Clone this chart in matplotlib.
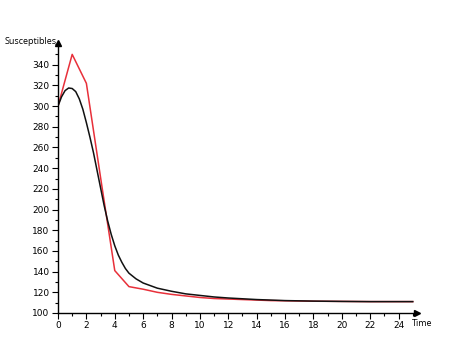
import matplotlib
matplotlib.use("Agg")
import matplotlib.pyplot as plt
from matplotlib.ticker import MultipleLocator

# Red series (discrete model), read at integer times
t_red = [0, 1, 2, 3, 4, 5, 6, 7, 8, 9, 10, 11, 12, 13, 14, 15, 16, 17, 18, 19, 20, 21, 22, 23, 24, 25]
s_red = [300, 350, 322, 231, 141, 125.5, 123, 120, 118, 116.5, 115, 114, 113.5, 113, 112.5, 112,
         111.8, 111.6, 111.4, 111.3, 111.2, 111.1, 111, 111, 111, 111]

# Black series (continuous model)
t_black = [0, 0.25, 0.5, 0.75, 1, 1.25, 1.5, 1.75, 2, 2.25, 2.5, 2.75, 3, 3.25, 3.5, 3.75, 4,
           4.25, 4.5, 4.75, 5, 5.5, 6, 7, 8, 9, 10, 11, 12, 14, 16, 18, 20, 22, 25]
s_black = [300, 309, 315, 317.5, 317, 314, 307, 297, 284, 270, 255, 238, 221, 204, 189, 176, 165,
           156, 149, 143, 138.5, 133, 129, 124, 121, 118.5, 117, 115.5, 114.5, 113, 112, 111.5,
           111.2, 111, 111]

fig = plt.figure(figsize=(4.74, 3.57), dpi=100)
ax = fig.add_axes([58/474, 1 - 313/357, (417 - 58)/474, (313 - 43)/357])

ax.plot(t_red, s_red, color="#e8303a", lw=1.1)
ax.plot(t_black, s_black, color="#111111", lw=1.1)

ax.set_xlim(0, 25.3)
ax.set_ylim(100, 361)

for s in ("top", "right"):
    ax.spines[s].set_visible(False)
for s in ("left", "bottom"):
    ax.spines[s].set_color("black")
    ax.spines[s].set_linewidth(1.0)

ax.xaxis.set_major_locator(MultipleLocator(2))
ax.xaxis.set_minor_locator(MultipleLocator(1))
ax.yaxis.set_major_locator(MultipleLocator(20))
ax.yaxis.set_minor_locator(MultipleLocator(10))
ax.tick_params(axis="both", which="major", length=4, width=0.8, labelsize=6.5, pad=2, colors="black")
ax.tick_params(axis="both", which="minor", length=2.5, width=0.8)
ax.set_xticks([t for t in range(0, 25, 2)])
ax.set_yticks(list(range(100, 341, 20)))

# arrow heads
ax.plot(1, 0, ">k", transform=ax.transAxes, clip_on=False, markersize=4)
ax.plot(0, 1, "^k", transform=ax.transAxes, clip_on=False, markersize=4)

fig.text(5/474, 1 - 41/357, "Susceptibles", fontsize=6.5, family="Open Sans", weight="medium",
         va="center", ha="left")
fig.text(412/474, 1 - 324/357, "Time", fontsize=6.5, family="Open Sans", weight="medium",
         va="center", ha="left")

fig.savefig("out.png", dpi=100)
